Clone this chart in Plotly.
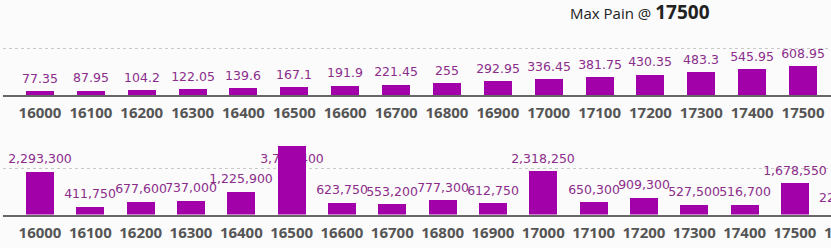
import plotly.graph_objects as go

# ---- data ----
strikes_top = ["16000", "16100", "16200", "16300", "16400", "16500", "16600", "16700",
               "16800", "16900", "17000", "17100", "17200", "17300", "17400", "17500"]
pain_values = [77.35, 87.95, 104.2, 122.05, 139.6, 167.1, 191.9, 221.45,
               255, 292.95, 336.45, 381.75, 430.35, 483.3, 545.95, 608.95]

strikes_bottom = ["16000", "16100", "16200", "16300", "16400", "16500", "16600", "16700",
                  "16800", "16900", "17000", "17100", "17200", "17300", "17400", "17500", "17600"]
oi_values = [2293300, 411750, 677600, 737000, 1225900, 3704400, 623750, 553200,
             777300, 612750, 2318250, 650300, 909300, 527500, 516700, 1678550, 224800]

max_pain_strike = "17500"

# ---- styling / geometry ----
W, H = 831, 248
BG = "#fbfbfb"
BAR = "#a200a8"
LBL = "#8b2d8b"
TICK = "#555555"

top_px_per_unit = 47 / 1000.0
bot_px_per_unit = 46.5 / 2500000.0
LABEL_LIFT_PX = 2.5
BOTTOM_LABEL_CAP = 2330000

top_labels_y = [v + LABEL_LIFT_PX / top_px_per_unit for v in pain_values]
bot_labels_y = [min(v, BOTTOM_LABEL_CAP) + LABEL_LIFT_PX / bot_px_per_unit for v in oi_values]

fig = go.Figure()

lblfont = dict(family="DejaVu Sans", size=12.5, color=LBL)
tickfont = dict(family="Open Sans", size=15, color=TICK, weight=700)

x0 = 3
plot_w = W - x0
top_sp, bot_sp = 50.87, 50.33
top_r0 = -(40 - x0) / top_sp
bot_r0 = -(40 - x0) / bot_sp
top_r1 = top_r0 + plot_w / top_sp
bot_r1 = bot_r0 + plot_w / bot_sp

# top: invisible label carrier then bars
fig.add_trace(go.Bar(x=strikes_top, y=top_labels_y, text=[f"{v:g}" for v in pain_values],
                     textposition="outside", constraintext="none", cliponaxis=False,
                     marker=dict(color="rgba(0,0,0,0)", line=dict(width=0)),
                     textfont=lblfont, width=28 / top_sp, hoverinfo="skip",
                     xaxis="x", yaxis="y", showlegend=False))
fig.add_trace(go.Bar(x=strikes_top, y=pain_values, marker=dict(color=BAR, line=dict(width=0)),
                     width=28 / top_sp, cliponaxis=False, xaxis="x", yaxis="y", showlegend=False))

fig.add_trace(go.Bar(x=strikes_bottom, y=bot_labels_y, text=[f"{v:,}" for v in oi_values],
                     textposition="outside", constraintext="none", cliponaxis=False,
                     marker=dict(color="rgba(0,0,0,0)", line=dict(width=0)),
                     textfont=lblfont, width=28 / bot_sp, hoverinfo="skip",
                     xaxis="x2", yaxis="y2", showlegend=False))
fig.add_trace(go.Bar(x=strikes_bottom, y=oi_values, marker=dict(color=BAR, line=dict(width=0)),
                     width=28 / bot_sp, cliponaxis=False, xaxis="x2", yaxis="y2", showlegend=False))

top_base_px, top_top_px = 95, 30
bot_base_px, bot_top_px = 214.5, 140

common_x = dict(type="category", showline=True, linecolor="#666666", linewidth=2,
                ticks="", showgrid=False, zeroline=False, tickfont=tickfont,
                ticklabelstandoff=3, fixedrange=True)
common_y = dict(showgrid=True, gridcolor="#c8c8c8", griddash="dot", gridwidth=1,
                showticklabels=False, zeroline=False, ticks="", fixedrange=True)

# strikes that fall just past the visible right edge (partially shown, as in a scrolled chart)
annotations = [dict(
    text=f"<span style='font-size:15px'>Max Pain @ </span><b style='font-size:19px'>{max_pain_strike}</b>",
    xref="paper", yref="paper", x=712 / W, y=(H - 12) / H, xanchor="right", yanchor="middle",
    showarrow=False, font=dict(family="Open Sans", size=15, color="#222222"))]
for i, (s, v, ly) in enumerate(zip(strikes_bottom, oi_values, bot_labels_y)):
    if i > bot_r1:
        cx = (x0 + (i - bot_r0) * bot_sp) / W
        annotations.append(dict(text=f"{v:,}", xref="paper", yref="y2", x=cx, y=ly,
                                xanchor="center", yanchor="bottom", yshift=1, showarrow=False,
                                font=lblfont))
        annotations.append(dict(text=s, xref="paper", yref="paper", x=cx,
                                y=(H - (bot_base_px + 17.5)) / H, xanchor="center",
                                yanchor="middle", showarrow=False, font=tickfont))

fig.update_layout(
    width=W, height=H, margin=dict(l=0, r=0, t=0, b=0),
    paper_bgcolor=BG, plot_bgcolor=BG, barmode="overlay", bargap=0,
    xaxis=dict(common_x, domain=[x0 / W, 1], range=[top_r0, top_r1], anchor="y"),
    yaxis=dict(common_y, domain=[(H - top_base_px) / H, (H - top_top_px) / H],
               range=[0, (top_base_px - top_top_px) / top_px_per_unit], tickvals=[1000],
               anchor="x"),
    xaxis2=dict(common_x, domain=[x0 / W, 1], range=[bot_r0, bot_r1], anchor="y2"),
    yaxis2=dict(common_y, domain=[(H - bot_base_px) / H, (H - bot_top_px) / H],
                range=[0, (bot_base_px - bot_top_px) / bot_px_per_unit], tickvals=[2500000],
                anchor="x2"),
    annotations=annotations,
)

fig.write_html("out.html")
